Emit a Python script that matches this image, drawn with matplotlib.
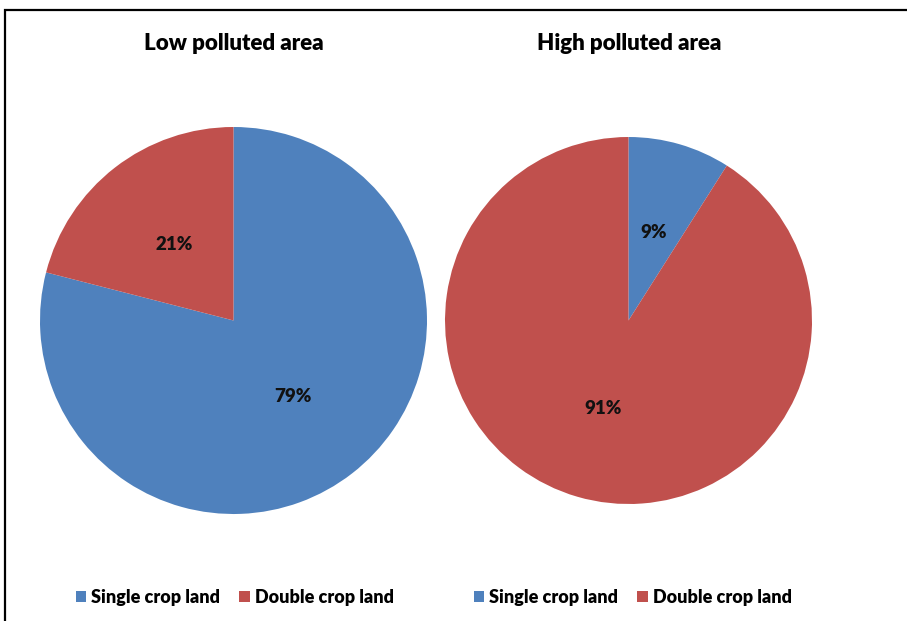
import matplotlib
matplotlib.use("Agg")
import matplotlib.pyplot as plt
from matplotlib.patches import Rectangle, Patch

plt.rcParams['font.family'] = ['Lato', 'DejaVu Sans']

categories = ["Single crop land", "Double crop land"]
low_values = [79, 21]
high_values = [9, 91]
titles = ["Low polluted area", "High polluted area"]
colors = ["#4F81BD", "#C0504D"]

W, H = 907, 621
fig = plt.figure(figsize=(W / 100, H / 100), dpi=100)

# frame around the chart area (open at right/bottom edges of the image)
fig.add_artist(Rectangle((5 / W, -0.1), 1.2, (H - 9.5) / H + 0.1,
                         transform=fig.transFigure, fill=False,
                         edgecolor="black", linewidth=1.6))


def pie_axes(cx, cy, r):
    return fig.add_axes([(cx - r) / W, (H - cy - r) / H, 2 * r / W, 2 * r / H])


specs = [(233.5, 320.5, 193.5, low_values, 234, 44),
         (628.5, 320.5, 183.5, high_values, 629, 44)]

for (cx, cy, r, vals, tx, ty), title in zip(specs, titles):
    ax = pie_axes(cx, cy, r)
    ax.pie(vals, colors=colors, startangle=90, counterclock=False,
           autopct=lambda p: f"{p:.0f}%", pctdistance=0.5, radius=1,
           textprops=dict(fontsize=13.5, fontweight="heavy", color="#111111"),
           wedgeprops=dict(linewidth=0))
    ax.set_xlim(-1, 1)
    ax.set_ylim(-1, 1)
    ax.set_axis_off()
    fig.text(tx / W, 1 - ty / H, title, ha="center", va="center",
             fontsize=16, fontweight="heavy", color="#000000")

handles = [Patch(facecolor=c, edgecolor="none") for c in colors]
for lx in (76, 474):
    fig.legend(handles, categories, loc="center left",
               bbox_to_anchor=(lx / W, 1 - 597 / H), ncol=2, frameon=False,
               prop=dict(size=13, weight="heavy"),
               handlelength=0.57, handleheight=0.57, handletextpad=0.28,
               columnspacing=1.05, borderpad=0, borderaxespad=0)

fig.savefig("out.png", dpi=100, facecolor="white")
